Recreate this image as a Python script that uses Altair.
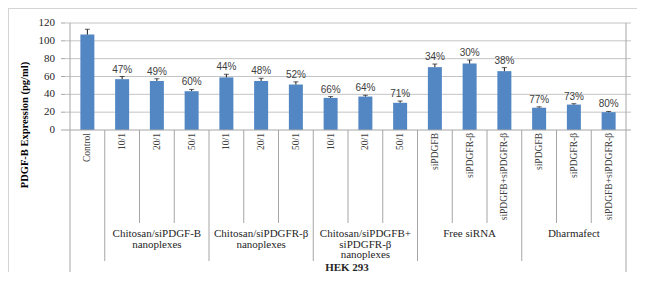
import altair as alt
import pandas as pd

# ---- data ----
categories = ["Control", "10/1", "20/1", "50/1", "10/1", "20/1", "50/1",
              "10/1", "20/1", "50/1", "siPDGFB", "siPDGFR-β", "siPDGFB+siPDGFR-β",
              "siPDGFB", "siPDGFR-β", "siPDGFB+siPDGFR-β"]
values = [107, 57, 55, 43.5, 59, 55, 51, 36, 37.5, 30.5, 70.5, 74.5, 66, 25, 28.5, 20]
errors = [6, 3, 2.5, 2, 3.5, 3, 3, 1.5, 1.5, 2, 3.5, 4, 4, 1, 1, 0.8]
percent_labels = ["", "47%", "49%", "60%", "44%", "48%", "52%", "66%", "64%", "71%",
                  "34%", "30%", "38%", "77%", "73%", "80%"]
group_names = ["Chitosan/siPDGF-B\nnanoplexes", "Chitosan/siPDGFR-β\nnanoplexes",
               "Chitosan/siPDGFB+\nsiPDGFR-β\nnanoplexes", "Free siRNA", "Dharmafect"]
group_sizes = [3, 3, 3, 3, 3]
group_offset = 1  # Control stands alone before the groups
outer_label = "HEK 293"
y_title = "PDGF-B Expression (pg/ml)"
y_ticks = [0, 20, 40, 60, 80, 100, 120]
y_tick_labels = ["0", "20", "40", "60", "80", "100", "120"]

n = len(categories)
df = pd.DataFrame({
    "pos": [i + 0.5 for i in range(n)],
    "cat": categories,
    "val": values,
    "top": [v + e for v, e in zip(values, errors)],
    "pct": percent_labels,
})

g_rows = []
start = group_offset
for name, size in zip(group_names, group_sizes):
    g_rows.append({"name": name, "mid": start + size / 2})
    start += size
gdf = pd.DataFrame(g_rows)

group_bounds = [group_offset]
acc = group_offset
for size in group_sizes[:-1]:
    acc += size
    group_bounds.append(acc)
inner_bounds = [b for b in range(1, n) if b not in group_bounds]
bdf_group = pd.DataFrame({"b": group_bounds})
bdf_inner = pd.DataFrame({"b": inner_bounds})
edge_df = pd.DataFrame({"b": [0, n]})
ydf = pd.DataFrame({"g": y_ticks, "lab": y_tick_labels})
one = pd.DataFrame({"k": [0]})

W, H = 566, 107
PL, PT, PR, PB = 57, 15, 6, 142
BOTTOM = H + PB

xs = alt.Scale(domain=[0, n], nice=False, zero=False)
ys = alt.Scale(domain=[0, 120], nice=False)

serif = "Liberation Serif"
sans = "Liberation Sans"
line_col = "#a6a6a6"


def X(field):
    return alt.X(field, type="quantitative", scale=xs, axis=None)


def Y(field):
    return alt.Y(field, type="quantitative", scale=ys, axis=None)


base = alt.Chart(df)
ybase = alt.Chart(ydf)

grid = ybase.transform_filter("datum.g > 0").mark_rule(color="#c4c4c4", strokeWidth=1).encode(
    y=Y("g"), x=alt.value(0), x2=alt.value(W))
yticks = ybase.mark_rule(color=line_col, strokeWidth=1).encode(
    y=Y("g"), x=alt.value(-4), x2=alt.value(0))
ylabels = ybase.mark_text(font=serif, fontSize=11, color="#262626", align="right",
                          baseline="middle", dx=-10).encode(
    y=Y("g"), x=alt.value(0), text="lab:N")

bars = base.mark_bar(color="#5287C4", size=14).encode(x=X("pos"), y=Y("val"))

xbase_line = ybase.transform_filter("datum.g == 0").mark_rule(color=line_col, strokeWidth=1).encode(
    y=Y("g"), x=alt.value(0), x2=alt.value(W))

err = base.mark_rule(color="#1a1a1a", strokeWidth=1).encode(
    x=X("pos"), y=Y("val"), y2="top:Q")
caps = base.mark_tick(color="#1a1a1a", thickness=1, size=5, orient="horizontal").encode(
    x=X("pos"), y=Y("top"))

pct = base.mark_text(font=sans, fontSize=10, color="#404040", baseline="bottom", dy=-2).encode(
    x=X("pos"), y=Y("top"), text="pct:N")

cat_text = base.mark_text(font=serif, fontSize=9.5, color="#404040", angle=270,
                          align="right", baseline="middle").encode(
    x=X("pos"), y=alt.value(H + 3), text="cat:N")

inner_lines = alt.Chart(bdf_inner).mark_rule(color=line_col, strokeWidth=1).encode(
    x=X("b"), y=alt.value(H), y2=alt.value(200))
group_lines = alt.Chart(bdf_group).mark_rule(color=line_col, strokeWidth=1).encode(
    x=X("b"), y=alt.value(H), y2=alt.value(238))
edge_lines = alt.Chart(edge_df).mark_rule(color=line_col, strokeWidth=1).encode(
    x=X("b"), y=alt.value(0), y2=alt.value(BOTTOM))

group_text = alt.Chart(gdf).mark_text(font=serif, fontSize=11, color="#262626", align="center",
                                      baseline="top", lineBreak="\n", lineHeight=10.5).encode(
    x=X("mid"), y=alt.value(205), text="name:N")

outer_text = alt.Chart(one).mark_text(font=serif, fontSize=11, fontWeight="bold", color="#262626",
                                      align="center", baseline="middle", text=outer_label).encode(
    x=alt.value(W / 2 - 1), y=alt.value(245))

title_text = alt.Chart(one).mark_text(font=serif, fontSize=10.5, fontWeight="bold", color="#000000",
                                      angle=270, align="center", baseline="middle", text=y_title).encode(
    x=alt.value(-40), y=alt.value(102))

border_top = alt.Chart(one).mark_rule(color="#d4d4d4", strokeWidth=1).encode(
    x=alt.value(-PL), x2=alt.value(W + PR), y=alt.value(-PT + 0.5))
border_left = alt.Chart(one).mark_rule(color="#d4d4d4", strokeWidth=1).encode(
    x=alt.value(-PL + 0.5), y=alt.value(-PT), y2=alt.value(BOTTOM))

chart = alt.layer(
    grid, yticks, ylabels, bars, xbase_line, err, caps, pct, cat_text,
    inner_lines, group_lines, edge_lines, group_text, outer_text, title_text,
    border_top, border_left
).properties(
    width=W, height=H,
    padding={"left": PL, "top": PT, "right": PR, "bottom": PB},
    autosize=alt.AutoSizeParams(type="none"),
    background="white",
).configure_view(strokeWidth=0)

chart.save("out.html", embed_options={"renderer": "svg", "actions": False})
